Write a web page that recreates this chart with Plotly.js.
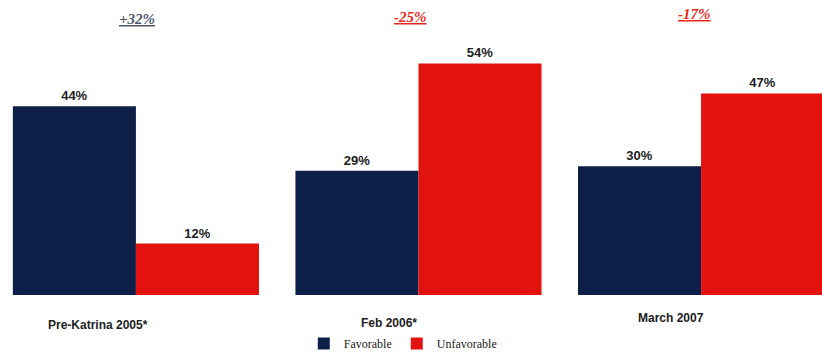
<!DOCTYPE html>
<html>
<head>
<meta charset="utf-8">
<script src="https://cdn.plot.ly/plotly-3.0.1.min.js"></script>
<style>html,body{margin:0;padding:0;background:#fff;}#chart{width:822px;height:358px;}</style>
</head>
<body>
<div id="chart"></div>
<script>
const categories = ["Pre-Katrina 2005*", "Feb 2006*", "March 2007"];
const favorable = [44, 29, 30];
const unfavorable = [12, 54, 47];
const netLabels = ["+32%", "-25%", "-17%"];
const netColors = ["#4a566b", "#e8271c", "#e8271c"];

const idx = categories.map((_, i) => i);
const valueFont = {family: "Liberation Sans, Arial, sans-serif", size: 13, color: "#222", weight: 700};

const traces = [
  {type: "bar", name: "Favorable", x: idx, y: favorable,
   text: favorable.map(v => v + "%"), textposition: "outside", textfont: valueFont,
   marker: {color: "#0e1f47"}, cliponaxis: false, hoverinfo: "skip"},
  {type: "bar", name: "Unfavorable", x: idx, y: unfavorable,
   text: unfavorable.map(v => v + "%"), textposition: "outside", textfont: valueFont,
   marker: {color: "#e2120f"}, cliponaxis: false, hoverinfo: "skip"}
];

const plotH = 298;
const catPx = [98, 389, 671];
const catPy = [328, 326, 321];
const netPx = [137, 410, 694];
const netPy = [19, 17, 14];

const annotations = [];
categories.forEach((c, i) => {
  annotations.push({xref: "paper", yref: "paper", x: catPx[i] / 822, y: 1 - catPy[i] / plotH,
    text: c, showarrow: false, xanchor: "center", yanchor: "middle",
    font: {family: "Liberation Sans Narrow, Liberation Sans, Arial, sans-serif", size: 12, color: "#222", weight: 700}});
  annotations.push({xref: "paper", yref: "paper", x: netPx[i] / 822, y: 1 - netPy[i] / plotH,
    text: "<u>" + netLabels[i] + "</u>", showarrow: false, xanchor: "center", yanchor: "middle",
    font: {family: "Liberation Serif, Times New Roman, serif", size: 15, color: netColors[i], weight: 700, style: "italic"}});
});

const layout = {
  width: 822, height: 358,
  margin: {l: 0, r: 0, t: 0, b: 358 - plotH},
  paper_bgcolor: "#fff", plot_bgcolor: "#fff",
  barmode: "group", bargap: 0.129, bargroupgap: 0,
  xaxis: {range: [-0.481, 2.428], showticklabels: false, showgrid: false, zeroline: false, showline: false, ticks: ""},
  yaxis: {range: [0, 68.8], showticklabels: false, showgrid: false, zeroline: false, showline: false, ticks: ""},
  showlegend: true,
  legend: {orientation: "h", x: 0.49, xanchor: "center", y: 1 - 347 / plotH, yanchor: "middle",
    font: {family: "Liberation Serif, Times New Roman, serif", size: 12, color: "#222"},
    itemwidth: 30, tracegroupgap: 0, bgcolor: "rgba(0,0,0,0)"},
  annotations: annotations
};

Plotly.newPlot("chart", traces, layout, {staticPlot: true, displayModeBar: false});
</script>
</body>
</html>
